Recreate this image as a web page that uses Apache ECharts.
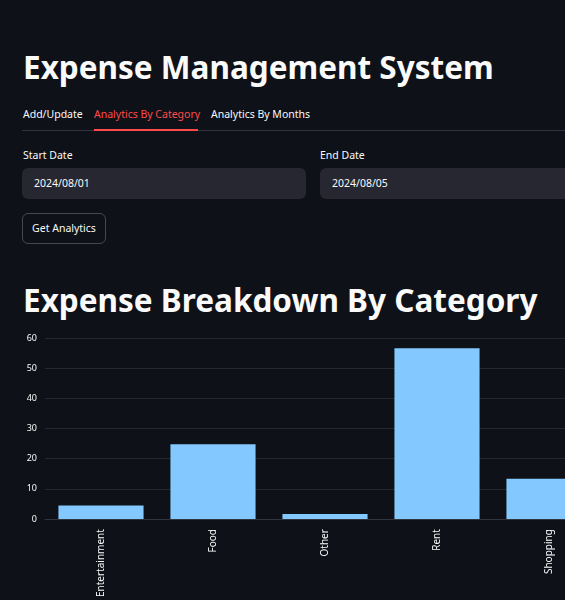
<!DOCTYPE html>
<html><head><meta charset="utf-8">
<script src="https://cdn.jsdelivr.net/npm/echarts@6/dist/echarts.min.js"></script>
<style>
html,body{margin:0;padding:0;width:565px;height:600px;overflow:hidden;background:#0e1117;font-family:"Source Sans Pro","Noto Sans",sans-serif;color:#fafafa;}
.abs{position:absolute;}
h1{position:absolute;margin:0;font-weight:700;font-size:31.5px;left:23px;white-space:nowrap;}
.tab{position:absolute;top:107px;font-size:10.5px;}
.inp{position:absolute;top:168px;height:31px;background:#262730;border-radius:6px;font-size:10.5px;line-height:31px;padding-left:12px;box-sizing:border-box;}
.lbl{position:absolute;top:148px;font-size:10.5px;}
</style></head><body>
<h1 style="top:45px">Expense Management System</h1>
<div class="tab" style="left:23px">Add/Update</div>
<div class="tab" style="left:94px;color:#ff4b4b">Analytics By Category</div>
<div class="tab" style="left:211px">Analytics By Months</div>
<div class="abs" style="left:22px;top:130px;width:543px;height:1px;background:#31333f"></div>
<div class="abs" style="left:94px;top:129px;width:104px;height:2px;background:#ff4b4b"></div>
<div class="lbl" style="left:23px">Start Date</div>
<div class="lbl" style="left:320px">End Date</div>
<div class="inp" style="left:22px;width:284px">2024/08/01</div>
<div class="inp" style="left:320px;width:260px">2024/08/05</div>
<div class="abs" style="left:22px;top:213px;width:84px;height:31px;border:1px solid #454752;border-radius:6px;box-sizing:border-box;font-size:10.5px;line-height:29px;text-align:center">Get Analytics</div>
<h1 style="top:278px;font-size:31.5px">Expense Breakdown By Category</h1>
<div id="c" class="abs" style="left:0;top:320px;width:620px;height:280px"></div>
<script>
const categories=["Entertainment","Food","Other","Rent","Shopping"];
const totals=[4.5,24.8,1.7,56.6,13.4];
const ch=echarts.init(document.getElementById('c'));
ch.setOption({
 animation:false,
 grid:{left:45,right:15,top:18,bottom:69},
 xAxis:{type:'category',data:categories,axisTick:{show:false},axisLine:{lineStyle:{color:'#31333f'}},
  axisLabel:{rotate:90,color:'#fafafa',fontSize:10,margin:10,fontFamily:'Noto Sans'}},
 yAxis:{type:'value',min:0,max:60,interval:10,axisLabel:{color:'#fafafa',fontSize:9,fontFamily:'Noto Sans'},
  splitLine:{lineStyle:{color:'#262730'}}},
 series:[{type:'bar',data:totals,barWidth:'76%',itemStyle:{color:'#83c9ff'}}]
});
</script>
</body></html>
